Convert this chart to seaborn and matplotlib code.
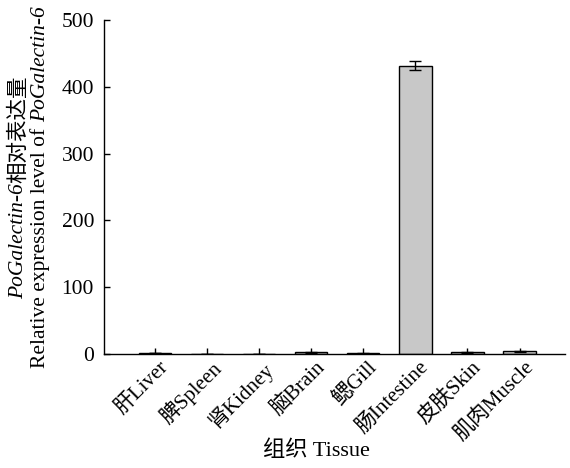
import numpy as np
import pandas as pd
import seaborn as sns
from matplotlib import pyplot as plt
from matplotlib import transforms

# Données
tissues = ['肝Liver', '脾Spleen', '肾Kidney', '脑Brain', '鳃Gill',
           '肠Intestine', '皮肤Skin', '肌肉Muscle']
expression = [0.5, 0.4, 0.3, 2.0, 0.8, 432.0, 2.5, 3.5]
errors = [0.0, 0.0, 0.0, 0.5, 0.5, 7.0, 0.6, 0.8]
y_ticks = [0, 100, 200, 300, 400, 500]

sns.set_theme(style='ticks')
plt.rcParams['font.family'] = ['Liberation Serif', 'Noto Sans CJK SC']

df = pd.DataFrame({'tissue': tissues, 'value': expression})

fig = plt.figure(figsize=(5.7, 4.68), dpi=100)
ax = fig.add_axes([0.182, 0.244, 0.81, 0.713])

sns.barplot(data=df, x='tissue', y='value', color='#c8c8c8', saturation=1,
            edgecolor='black', linewidth=1, width=0.62, ax=ax)
ax.errorbar(np.arange(len(tissues)), expression, yerr=errors, fmt='none',
            ecolor='black', elinewidth=1, capsize=4, capthick=1)

ax.set_xlim(-0.98, 7.88)
ax.set_ylim(0, 500)
ax.set_yticks(y_ticks)
ax.tick_params(direction='in', length=4, width=1, labelsize=15.5, colors='black')
ax.tick_params(axis='y', pad=7)
for sp in ['top', 'right']:
    ax.spines[sp].set_visible(False)
for sp in ['left', 'bottom']:
    ax.spines[sp].set_color('black')
    ax.spines[sp].set_linewidth(1)

ax.set_xticks(range(len(tissues)))
ax.set_xticklabels(tissues, rotation=45, ha='right', rotation_mode='anchor',
                   fontsize=15)
shift = transforms.ScaledTranslation(4 / 100, 1 / 100, fig.dpi_scale_trans)
for lab in ax.get_xticklabels():
    lab.set_transform(lab.get_transform() + shift)
ax.set_xlabel('组织 Tissue', fontsize=16, color='black')
ax.xaxis.set_label_coords(0.46, -0.26)
ax.set_ylabel('')

# Titre de l'axe Y : deux lignes, morceaux en italique
renderer = fig.canvas.get_renderer()
fig_h = fig.get_size_inches()[1] * fig.dpi
y_mid = 0.244 + 0.713 / 2


def vertical_line(x, pieces):
    texts = []
    for s, style, fam in pieces:
        t = fig.text(x, 0, s, rotation=90, fontsize=15.5, style=style,
                     family=fam, ha='center', va='bottom', color='black')
        texts.append(t)
    heights = [t.get_window_extent(renderer).height for t in texts]
    y = y_mid - sum(heights) / fig_h / 2
    for t, h in zip(texts, heights):
        t.set_y(y)
        y += h / fig_h


serif = ['Liberation Serif']
cjk = ['Noto Sans CJK SC']
vertical_line(0.032, [('PoGalectin-6', 'italic', serif),
                      ('相对表达量', 'normal', cjk)])
vertical_line(0.071, [('Relative expression level of ', 'normal', serif),
                      ('PoGalectin-6', 'italic', serif)])

fig.savefig('out.png', dpi=100)
